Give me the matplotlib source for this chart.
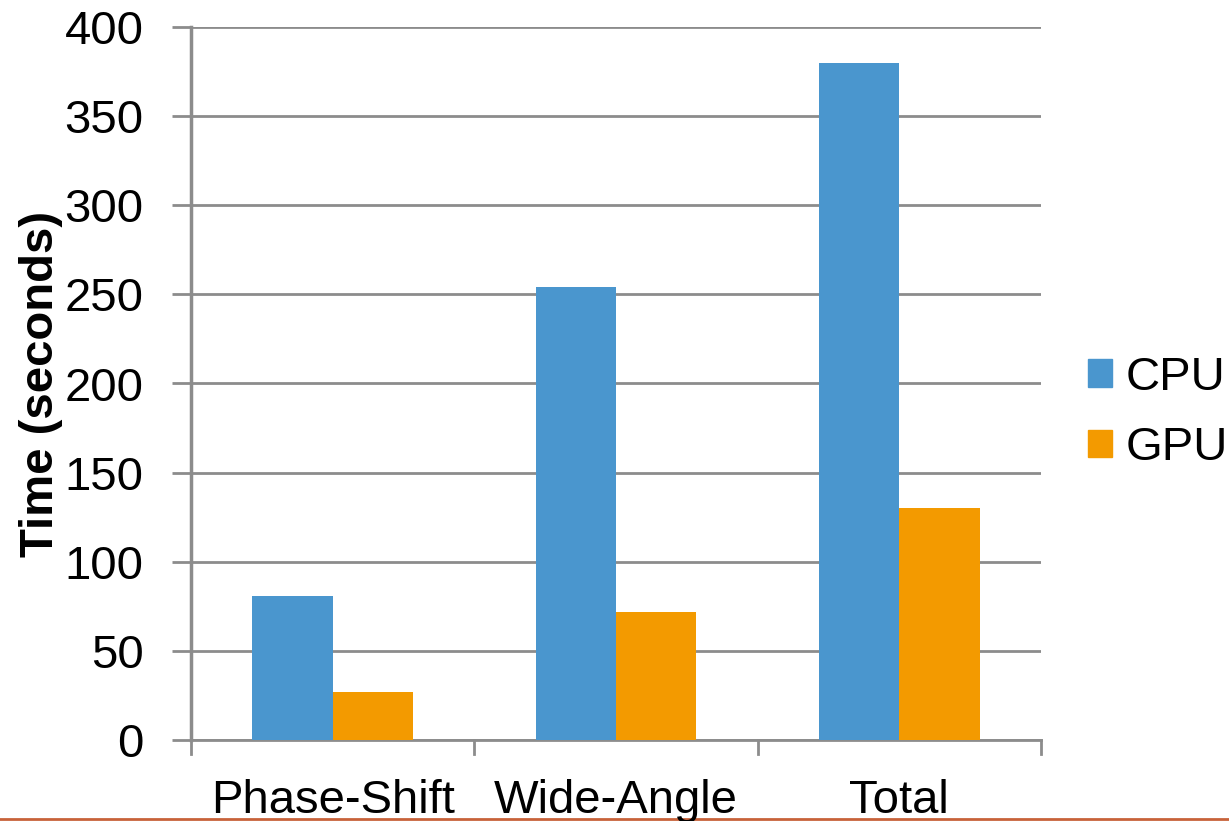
import matplotlib.pyplot as plt
import numpy as np
from matplotlib.patches import Patch
from matplotlib.lines import Line2D

categories = ["Phase-Shift", "Wide-Angle", "Total"]
cpu_times = [81, 254, 380]
gpu_times = [27, 72, 130]
series_names = ["CPU", "GPU"]
y_ticks = [0, 50, 100, 150, 200, 250, 300, 350, 400]

plt.rcParams['font.family'] = ['Liberation Sans', 'DejaVu Sans']

W, H = 1229, 821
FS = 34
fig = plt.figure(figsize=(W / 100, H / 100), dpi=100)
ax = fig.add_axes([191 / W, 1 - 740 / H, (1041 - 191) / W, (740 - 27) / H])

blue = "#4A96CE"
orange = "#F39A00"
grid_col = "#8C8C8C"

x = np.arange(len(categories))
bw = 0.284
ax.bar(x - bw / 2, cpu_times, width=bw, color=blue, label=series_names[0], zorder=3)
ax.bar(x + bw / 2, gpu_times, width=bw, color=orange, label=series_names[1], zorder=3)

ax.set_xlim(-0.5, len(categories) - 0.5)
ax.set_ylim(0, 400)
ax.set_yticks(y_ticks)
ax.set_yticklabels([str(v) for v in y_ticks], fontsize=FS)
ax.set_xticks(x)
ax.set_xticklabels(categories, fontsize=FS)
ax.tick_params(axis='x', length=0, pad=28)
ax.tick_params(axis='y', length=14, width=2, color=grid_col, pad=20)

# category boundary ticks along the bottom axis
for b in np.arange(-0.5, len(categories), 1.0):
    ax.plot([b, b], [0, -0.02], transform=ax.get_xaxis_transform(),
            color=grid_col, lw=2, clip_on=False, zorder=4)

ax.grid(axis='y', color=grid_col, lw=2, zorder=0)
for s in ['top', 'right']:
    ax.spines[s].set_visible(False)
ax.spines['left'].set_color(grid_col)
ax.spines['left'].set_linewidth(2.5)
ax.spines['bottom'].set_color(grid_col)
ax.spines['bottom'].set_linewidth(2)

ax.set_ylabel("Time (seconds)", fontsize=FS, fontweight='bold')
ax.yaxis.set_label_coords((63 - 191) / 850, 0.5)

handles = [Patch(color=blue), Patch(color=orange)]
fig.legend(handles, series_names, loc='center left', bbox_to_anchor=(1088 / W, 1 - 413 / H),
           frameon=False, fontsize=FS, handlelength=0.51, handleheight=0.51,
           handletextpad=0.28, labelspacing=0.56, borderpad=0, borderaxespad=0)

# decorative rule along the bottom edge, kept beneath the labels
fig.add_artist(Line2D([0, 1], [1 - 819 / H, 1 - 819 / H], color="#C8623A", lw=2,
                      transform=fig.transFigure, zorder=-1))

fig.savefig("out.png", dpi=100, facecolor='white')
